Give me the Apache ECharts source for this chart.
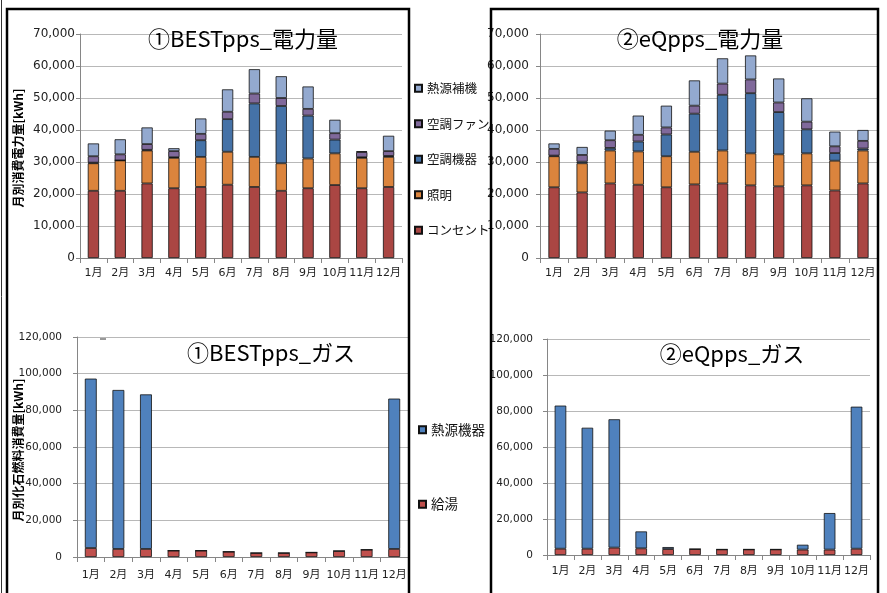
<!DOCTYPE html>
<html>
<head>
<meta charset="utf-8">
<script src="https://cdn.jsdelivr.net/npm/echarts@6/dist/echarts.min.js"></script>
<style>
  html, body { margin: 0; padding: 0; background: #fff; }
  #main { width: 887px; height: 593px; }
</style>
</head>
<body>
<div id="main"></div>
<script>
// 月
var months = ["1月", "2月", "3月", "4月", "5月", "6月", "7月", "8月", "9月", "10月", "11月", "12月"];

// ①BESTpps 電力量 [kWh]
var bestConsent = [21000, 21000, 23300, 21800, 22200, 22900, 22200, 21000, 21800, 22800, 21800, 22200];
var bestLight   = [8600, 9500, 10300, 9500, 9400, 10300, 9400, 8600, 9300, 9900, 9500, 9400];
var bestAcUnit  = [200, 0, 200, 200, 5200, 10200, 16700, 17900, 13400, 4300, 200, 300];
var bestAcFan   = [2000, 1900, 1800, 1900, 2000, 2300, 3100, 2500, 2100, 2000, 1600, 1500];
var bestHeatAux = [4000, 4700, 5200, 900, 4800, 7000, 7600, 6800, 7000, 4200, 300, 4800];

// ②eQpps 電力量 [kWh]
var eqConsent = [22100, 20500, 23300, 22900, 22100, 23000, 23300, 22700, 22400, 22700, 21100, 23300];
var eqLight   = [9700, 9100, 10300, 10400, 9700, 10200, 10300, 10000, 10000, 10000, 9300, 10300];
var eqAcUnit  = [200, 500, 800, 3100, 6800, 11900, 17400, 18800, 13200, 7500, 2400, 600];
var eqAcFan   = [2100, 2100, 2400, 2100, 2200, 2500, 3500, 4300, 3000, 2400, 2100, 2400];
var eqHeatAux = [1700, 2500, 3000, 6000, 6800, 7900, 7900, 7500, 7500, 7300, 4600, 3400];

// ガス [kWh]
var bestHotWater = [4900, 4400, 4400, 3500, 3500, 2900, 2200, 2200, 2500, 3300, 4000, 4400];
var bestHeatSrc  = [92400, 86700, 84300, 0, 0, 0, 0, 0, 0, 0, 0, 82000];
var eqHotWater   = [3500, 3500, 4100, 3700, 3300, 3300, 3100, 3100, 3100, 3000, 3000, 3500];
var eqHeatSrc    = [79500, 67200, 71300, 9400, 1100, 0, 0, 0, 0, 2700, 20300, 78900];

var elecNames = ["コンセント", "照明", "空調機器", "空調ファン", "熱源補機"];
var elecColors = ["#AA4643", "#DB843D", "#4572A7", "#80699B", "#93A9CF"];
var gasNames = ["給湯", "熱源機器"];
var gasColors = ["#C0504D", "#4F81BD"];

var FONT = '"DejaVu Sans", "Noto Sans CJK JP", sans-serif';
var CJK = '"Noto Sans CJK JP", sans-serif';

function comma(v) {
  return String(v).replace(/\B(?=(\d{3})+(?!\d))/g, ",");
}

function xAx(idx, margin) {
  return {
    type: "category",
    gridIndex: idx,
    data: months,
    axisLine: { lineStyle: { color: "#868686", width: 1 } },
    axisTick: { show: true, length: 5, lineStyle: { color: "#868686" } },
    axisLabel: { interval: 0, fontSize: 11, color: "#222", margin: margin, fontFamily: FONT }
  };
}

function yAx(idx, max, step, margin, size) {
  return {
    type: "value",
    gridIndex: idx,
    min: 0,
    max: max,
    interval: step,
    axisLine: { show: true, lineStyle: { color: "#868686", width: 1 } },
    axisTick: { show: true, length: 4, lineStyle: { color: "#868686" } },
    splitLine: { lineStyle: { color: "#B8B8B8", width: 1.2 } },
    axisLabel: { fontSize: size, color: "#222", margin: margin, fontFamily: FONT, formatter: comma }
  };
}

function bars(names, colors, datas, idx, stack, width) {
  return names.map(function (n, i) {
    return {
      name: n,
      type: "bar",
      stack: stack,
      xAxisIndex: idx,
      yAxisIndex: idx,
      barWidth: width,
      data: datas[i],
      itemStyle: { color: colors[i], borderColor: "#111", borderWidth: 0.8 }
    };
  });
}

var series = []
  .concat(bars(elecNames, elecColors, [bestConsent, bestLight, bestAcUnit, bestAcFan, bestHeatAux], 0, "best", "42%"))
  .concat(bars(elecNames, elecColors, [eqConsent, eqLight, eqAcUnit, eqAcFan, eqHeatAux], 1, "eq", "40%"))
  .concat(bars(gasNames, gasColors, [bestHotWater, bestHeatSrc], 2, "bestgas", "43%"))
  .concat(bars(gasNames, gasColors, [eqHotWater, eqHeatSrc], 3, "eqgas", "43%"));

function title(text, x, y) {
  return {
    type: "text", x: x, y: y, z: 50,
    style: { text: text, fontSize: 22, fontFamily: CJK, fill: "#000", align: "center", verticalAlign: "middle" }
  };
}

function yName(text, x, y) {
  return {
    type: "text", x: x, y: y, rotation: Math.PI / 2, z: 50,
    style: { text: text, fontSize: 12, fontWeight: "bold", fontFamily: CJK, fill: "#000", align: "center", verticalAlign: "middle" }
  };
}

var chart = echarts.init(document.getElementById("main"));
chart.setOption({
  animation: false,
  backgroundColor: "#fff",
  textStyle: { fontFamily: FONT },
  grid: [
    { left: 80, top: 34, width: 322, height: 224 },
    { left: 540, top: 34, width: 337, height: 224 },
    { left: 77, top: 337, width: 331, height: 220 },
    { left: 547, top: 339, width: 323, height: 216 }
  ],
  xAxis: [xAx(0, 10), xAx(1, 10), xAx(2, 13), xAx(3, 11)],
  yAxis: [
    yAx(0, 70000, 10000, 5, 12),
    yAx(1, 70000, 10000, 11, 12),
    yAx(2, 120000, 20000, 15, 10.5),
    yAx(3, 120000, 20000, 14, 10.5)
  ],
  legend: [
    {
      orient: "vertical", left: 409, top: 77, itemGap: 23,
      itemWidth: 7, itemHeight: 7, icon: "rect",
      data: ["熱源補機", "空調ファン", "空調機器", "照明", "コンセント"],
      textStyle: { fontSize: 12.5, color: "#111", fontFamily: CJK }
    },
    {
      orient: "vertical", left: 413, top: 418, itemGap: 61,
      itemWidth: 7, itemHeight: 7, icon: "rect",
      data: ["熱源機器", "給湯"],
      textStyle: { fontSize: 13.5, color: "#111", fontFamily: CJK }
    }
  ],
  graphic: [
    title("①BESTpps_電力量", 243, 39),
    title("②eQpps_電力量", 700, 39),
    title("①BESTpps_ガス", 271, 353),
    title("②eQpps_ガス", 732, 354),
    yName("月別消費電力量[kWh]", 18, 148),
    yName("月別化石燃料消費量[kWh]", 18, 450),
    { type: "line", z: 60, shape: { x1: 100, y1: 339, x2: 106, y2: 339 }, style: { stroke: "#333", lineWidth: 1 } },
    { type: "line", z: 100, shape: { x1: 1.5, y1: 0, x2: 1.5, y2: 593 }, style: { stroke: "#333", lineWidth: 1 } },
    { type: "rect", z: 100, shape: { x: 7, y: 9, width: 402, height: 600 }, style: { fill: "none", stroke: "#000", lineWidth: 2.5 } },
    { type: "rect", z: 100, shape: { x: 491, y: 9, width: 387, height: 600 }, style: { fill: "none", stroke: "#000", lineWidth: 2.5 } }
  ],
  series: series
});
</script>
</body>
</html>
